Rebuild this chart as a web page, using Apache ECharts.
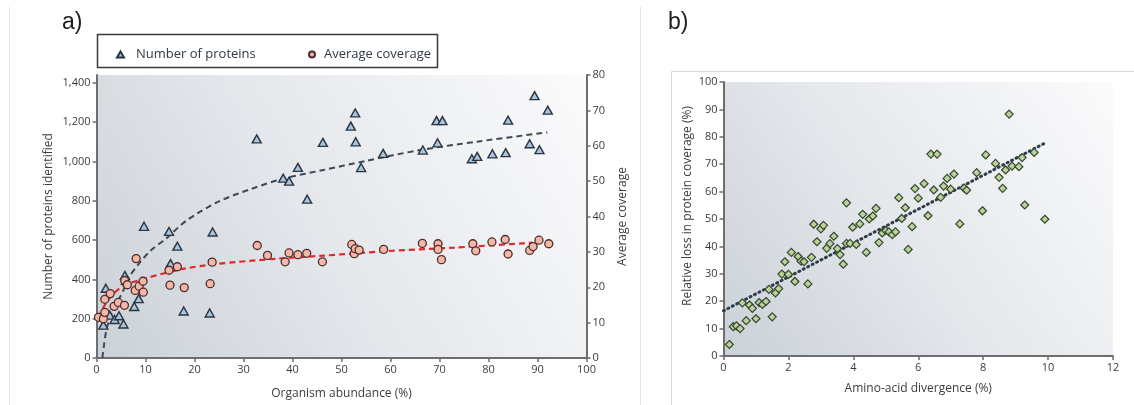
<!DOCTYPE html>
<html>
<head>
<meta charset="utf-8">
<script src="https://cdn.jsdelivr.net/npm/echarts@6/dist/echarts.min.js"></script>
<style>
  html, body { margin: 0; padding: 0; background: #ffffff; }
  #chart { width: 1134px; height: 405px; }
</style>
</head>
<body>
<div id="chart"></div>
<script>
// Panel a: proteins identified vs. organism abundance
const proteinAbundance = [1.4, 1.9, 2.7, 3.7, 4.6, 5.5, 5.8, 6.0, 7.7, 8.6, 9.7, 14.8, 15.1, 16.5, 17.8, 23.1, 23.7, 32.7, 38.1, 39.3, 41.1, 43.0, 46.2, 51.9, 52.8, 52.9, 54.0, 58.5, 66.6, 69.4, 70.6, 69.6, 76.6, 77.7, 80.8, 83.5, 84.0, 88.4, 89.4, 90.4, 92.1];
const proteinCounts = [167, 355, 218, 196, 215, 173, 420, 395, 262, 302, 670, 644, 480, 569, 239, 229, 641, 1115, 915, 900, 970, 808, 1097, 1180, 1247, 1100, 969, 1041, 1058, 1208, 1208, 1095, 1014, 1026, 1039, 1045, 1210, 1090, 1335, 1060, 1261];

// Panel a: average coverage vs. organism abundance
const coverageAbundance = [0.4, 1.4, 1.7, 1.7, 2.8, 3.6, 4.45, 5.7, 5.75, 6.3, 7.9, 8.1, 8.7, 9.5, 9.55, 14.8, 15.0, 16.5, 17.9, 23.2, 23.6, 32.8, 34.9, 38.5, 39.3, 41.1, 42.9, 46.1, 52.1, 52.6, 52.8, 53.6, 58.6, 66.5, 69.7, 69.7, 70.4, 76.8, 77.4, 80.7, 83.4, 84.0, 88.4, 89.1, 90.3, 92.3];
const coverageValues = [11.5, 11.1, 12.9, 16.6, 18.2, 14.6, 15.7, 14.9, 21.9, 20.7, 19.1, 28.1, 20.3, 21.7, 18.6, 24.8, 20.6, 25.8, 19.9, 21.0, 27.1, 31.8, 29.0, 27.2, 29.7, 29.2, 29.6, 27.2, 32.1, 29.5, 30.9, 30.5, 30.7, 32.4, 32.3, 30.7, 27.8, 32.3, 30.3, 32.8, 33.5, 29.4, 30.4, 31.5, 33.3, 32.3];

// Fitted trend curves of panel a
const proteinTrendX = [1.2, 1.5, 2.0, 2.8, 3.8, 5.5, 6.6, 8.5, 10.9, 14.3, 18.4, 25, 32, 38, 46, 55, 66, 78, 92];
const proteinTrendY = [0, 60, 140, 210, 262, 345, 410, 475, 543, 610, 700, 797, 864, 912, 955, 1003, 1058, 1102, 1148];
const coverageTrendX = [0.4, 1.7, 3, 5.5, 10, 17, 24, 37, 46, 59, 73, 89];
const coverageTrendY = [11.4, 15, 17.5, 20.4, 22.5, 25, 26.5, 28.1, 28.9, 30.2, 31.2, 32.6];

// Panel b: loss in protein coverage vs. amino-acid divergence
const divergence = [0.18, 0.3, 0.4, 0.51, 0.58, 0.7, 0.8, 0.89, 1.0, 1.1, 1.2, 1.31, 1.4, 1.5, 1.6, 1.7, 1.8, 1.89, 2.0, 2.09, 2.2, 2.3, 2.39, 2.48, 2.6, 2.71, 2.78, 2.88, 3.0, 3.08, 3.18, 3.28, 3.4, 3.51, 3.59, 3.69, 3.79, 3.79, 3.9, 3.98, 4.09, 4.2, 4.29, 4.4, 4.49, 4.6, 4.7, 4.79, 4.89, 5.0, 5.1, 5.2, 5.3, 5.4, 5.49, 5.6, 5.69, 5.81, 5.9, 6.0, 6.18, 6.3, 6.39, 6.48, 6.58, 6.69, 6.78, 6.89, 7.0, 7.1, 7.28, 7.41, 7.49, 7.8, 7.98, 8.08, 8.38, 8.49, 8.6, 8.69, 8.8, 8.89, 9.1, 9.2, 9.28, 9.57, 9.9];
const coverageLoss = [4.2, 10.7, 11.0, 10.0, 19.4, 12.9, 18.6, 17.4, 13.6, 19.5, 18.8, 19.9, 24.3, 14.3, 23.0, 24.6, 29.9, 34.4, 29.8, 37.8, 27.2, 36.3, 34.6, 34.4, 26.3, 36.0, 48.1, 41.7, 46.4, 47.7, 39.3, 41.0, 43.7, 39.2, 37.0, 33.5, 55.9, 41.1, 41.1, 47.0, 40.7, 48.2, 51.7, 37.8, 50.0, 51.1, 53.9, 41.4, 44.9, 45.8, 45.3, 44.3, 45.3, 57.8, 50.2, 54.1, 38.9, 47.2, 61.1, 57.6, 62.9, 51.2, 73.7, 60.6, 73.7, 57.9, 62.0, 64.8, 60.9, 66.4, 48.2, 61.3, 60.5, 66.9, 53.0, 73.4, 70.3, 65.2, 61.2, 67.9, 88.3, 69.3, 69.1, 72.4, 55.1, 74.3, 49.9];
const lossTrendX = [0, 9.95];
const lossTrendY = [16.5, 78];

// Tick values
const proteinTicks = [0, 200, 400, 600, 800, 1000, 1200, 1400];

const zip = (xs, ys) => xs.map((x, i) => [x, ys[i]]);

const FONT = 'Open Sans';
const TEXT = '#3c3c3c';
const AXIS = '#6e6e6e';

function plotBackground() {
  return new echarts.graphic.LinearGradient(0, 1, 1, 0, [
    { offset: 0, color: '#cbd1d8' },
    { offset: 0.45, color: '#e4e7eb' },
    { offset: 1, color: '#fbfbfc' }
  ]);
}

function valueAxis(extra) {
  return Object.assign({
    type: 'value',
    splitLine: { show: false },
    axisLine: { show: true, lineStyle: { color: AXIS, width: 2 } },
    axisTick: { show: true, length: 4, lineStyle: { color: AXIS, width: 1.5 } },
    axisLabel: { color: TEXT, fontSize: 11, fontFamily: FONT, margin: 6 },
    nameLocation: 'middle',
    nameTextStyle: { color: TEXT, fontSize: 12, fontFamily: FONT }
  }, extra);
}

const chart = echarts.init(document.getElementById('chart'), null, { renderer: 'canvas' });

chart.setOption({
  animation: false,
  backgroundColor: '#ffffff',
  graphic: [
    { type: 'line', shape: { x1: 9.5, y1: 7, x2: 9.5, y2: 405 }, style: { stroke: '#e2e2e2', lineWidth: 1 } },
    { type: 'line', shape: { x1: 640.5, y1: 7, x2: 640.5, y2: 405 }, style: { stroke: '#e2e2e2', lineWidth: 1 } },
    { type: 'polyline', shape: { points: [[671.5, 405], [671.5, 71.5], [1134, 71.5]] }, style: { stroke: '#d9d9d9', lineWidth: 1, fill: null } },
    { type: 'text', left: 62, top: 11, style: { text: 'a)', fontSize: 23, fontFamily: 'Liberation Sans', fill: '#1e1e1e' } },
    { type: 'text', left: 668, top: 11, style: { text: 'b)', fontSize: 23, fontFamily: 'Liberation Sans', fill: '#1e1e1e' } },
    { type: 'rect', shape: { x: 97.5, y: 34.5, width: 340, height: 33 }, style: { fill: '#ffffff', stroke: '#3a3a3a', lineWidth: 1.5 }, z: -1 }
  ],
  legend: [
    {
      data: [{ name: 'Number of proteins', icon: 'triangle' }],
      left: 111, top: 43, itemWidth: 7, itemHeight: 6,
      textStyle: { color: '#2f3a46', fontSize: 13, fontFamily: FONT, padding: [0, 0, 0, 7] }
    },
    {
      data: [{ name: 'Average coverage', icon: 'circle' }],
      left: 303, top: 43, itemWidth: 6, itemHeight: 6,
      textStyle: { color: '#2f3a46', fontSize: 13, fontFamily: FONT, padding: [0, 0, 0, 4] }
    }
  ],
  grid: [
    { left: 96.5, right: 547.5, top: 75, bottom: 45.5, show: true, borderWidth: 0, backgroundColor: plotBackground() },
    { left: 723.5, right: 21, top: 82, bottom: 49, show: true, borderWidth: 0, backgroundColor: plotBackground() }
  ],
  xAxis: [
    valueAxis({ gridIndex: 0, min: 0, max: 100, interval: 10, name: 'Organism abundance (%)', nameGap: 30 }),
    valueAxis({ gridIndex: 1, min: 0, max: 12, interval: 2, name: 'Amino-acid divergence (%)', nameGap: 27 })
  ],
  yAxis: [
    valueAxis({
      gridIndex: 0, position: 'left', min: 0, max: 1440,
      axisLabel: { color: TEXT, fontSize: 11, fontFamily: FONT, margin: 6, customValues: proteinTicks },
      axisTick: { show: true, length: 4, lineStyle: { color: AXIS, width: 1.5 }, customValues: proteinTicks },
      name: 'Number of proteins identified', nameGap: 42
    }),
    valueAxis({ gridIndex: 0, position: 'right', min: 0, max: 80, interval: 10, name: 'Average coverage', nameGap: 30 }),
    valueAxis({
      gridIndex: 1, min: 0, max: 100, interval: 10, name: 'Relative loss in protein coverage (%)', nameGap: 30,
      nameTextStyle: { color: TEXT, fontSize: 12, fontFamily: FONT, padding: [0, 0, 0, 26] }
    })
  ],
  series: [
    {
      type: 'line', xAxisIndex: 0, yAxisIndex: 0, silent: true, smooth: 0.3, showSymbol: false, z: 2,
      data: zip(proteinTrendX, proteinTrendY),
      lineStyle: { color: '#3e4955', width: 2, type: [6, 4] }
    },
    {
      type: 'line', xAxisIndex: 0, yAxisIndex: 1, silent: true, smooth: 0.3, showSymbol: false, z: 2,
      data: zip(coverageTrendX, coverageTrendY),
      lineStyle: { color: '#e3262b', width: 2.2, type: [6, 4] }
    },
    {
      name: 'Number of proteins', type: 'scatter', xAxisIndex: 0, yAxisIndex: 0, z: 3,
      symbol: 'triangle', symbolSize: [9, 8],
      data: zip(proteinAbundance, proteinCounts),
      itemStyle: { color: '#a9c5de', borderColor: '#2b3440', borderWidth: 1.4, opacity: 1 }
    },
    {
      name: 'Average coverage', type: 'scatter', xAxisIndex: 0, yAxisIndex: 1, z: 4,
      symbol: 'circle', symbolSize: 8,
      data: zip(coverageAbundance, coverageValues),
      itemStyle: { color: '#f2b7a7', borderColor: '#502b2b', borderWidth: 1.3, opacity: 1 }
    },
    {
      type: 'line', xAxisIndex: 1, yAxisIndex: 2, silent: true, showSymbol: false, z: 2,
      data: zip(lossTrendX, lossTrendY),
      lineStyle: { color: '#2e3d4c', width: 3, type: [1, 4], cap: 'round' }
    },
    {
      name: 'Relative loss', type: 'scatter', xAxisIndex: 1, yAxisIndex: 2, z: 3,
      symbol: 'diamond', symbolSize: 8,
      data: zip(divergence, coverageLoss),
      itemStyle: { color: '#b8d49b', borderColor: '#36442d', borderWidth: 1.2, opacity: 1 }
    }
  ]
});
</script>
</body>
</html>
